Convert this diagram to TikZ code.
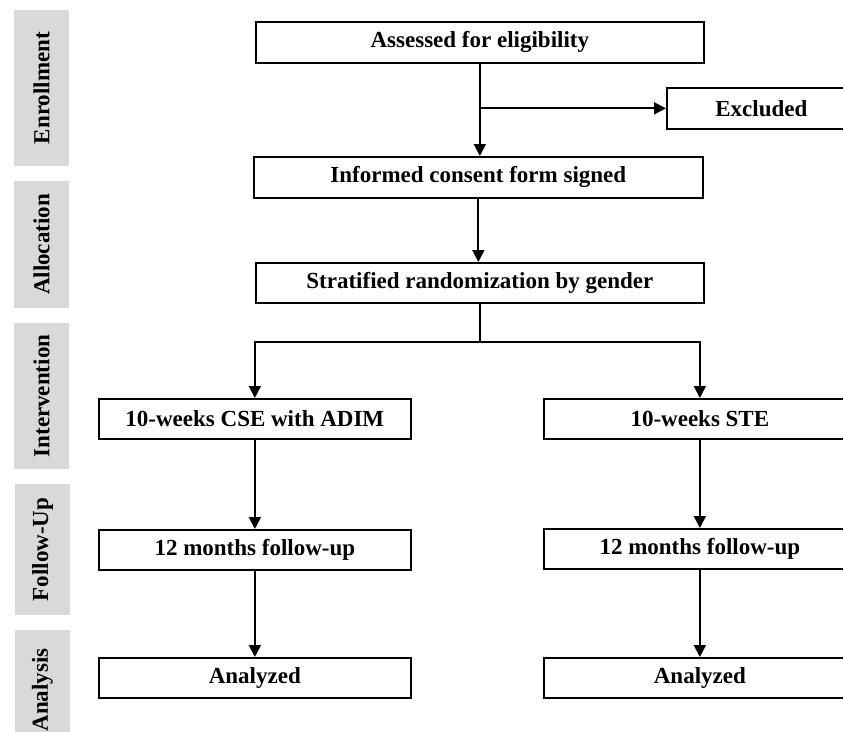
\documentclass[tikz,border=0pt]{standalone}
\usepackage{fontspec}
\setmainfont{Liberation Serif}
\usetikzlibrary{arrows.meta,calc}
\definecolor{bandgray}{HTML}{D9D9D9}
\begin{document}
\begin{tikzpicture}[x=1pt,y=-1pt,
  box/.style={draw, line width=1.7pt, inner sep=0pt, anchor=north west,
    minimum height=40pt, font=\fontsize{23}{26}\selectfont\bfseries},
  band/.style={fill=bandgray, draw=none, inner sep=0pt, rotate=90,
    minimum height=55pt, font=\fontsize{23}{26}\selectfont\bfseries},
  arr/.style={line width=1.8pt, -{Triangle[length=12pt,width=12pt]}},
  ln/.style={line width=1.8pt}]
\clip (0,0) rectangle (843,731);
% phase bands
\node[band, minimum width=156pt] (bEnr) at (41.5,88) {Enrollment};
\node[band, minimum width=127pt] (bAll) at (41.5,244.5) {Allocation};
\node[band, minimum width=146pt] (bInt) at (41.5,396) {Intervention};
\node[band, minimum width=131pt] (bFol) at (42.5,549.5) {Follow-Up};
\node[band, minimum width=120pt] (bAna) at (42.5,690) {Analysis};
% boxes
\node[box, minimum width=448pt, minimum height=41pt] (assess) at (255,21) {Assessed for eligibility};
\node[box, minimum width=189pt, minimum height=41pt] (excl) at (666,87) {Excluded};
\node[box, minimum width=449pt, minimum height=41pt] (consent) at (253,156) {Informed consent form signed};
\node[box, minimum width=448pt] (strat) at (255,262) {Stratified randomization by gender};
\node[box, minimum width=312pt] (cse) at (98,398) {10-weeks CSE with ADIM};
\node[box, minimum width=312pt] (ste) at (543,398) {10-weeks STE};
\node[box, minimum width=312pt] (fu1) at (98,529) {12 months follow-up};
\node[box, minimum width=312pt] (fu2) at (543,528) {12 months follow-up};
\node[box, minimum width=312pt] (an1) at (98,657) {Analyzed};
\node[box, minimum width=312pt] (an2) at (543,657) {Analyzed};
% connectors
\coordinate (j1) at (assess.south |- excl.west);
\coordinate (split) at ($(strat.south)+(0,38)$);
\draw[arr] (assess.south) -- (assess.south |- consent.north);
\draw[arr] (j1) -- (excl.west);
\draw[arr] (consent.south) -- (consent.south |- strat.north);
\draw[ln] (strat.south) -- (split);
\draw[arr] (split) -| (cse.north);
\draw[arr] (split) -| (ste.north);
\draw[arr] (cse.south) -- (fu1.north);
\draw[arr] (ste.south) -- (fu2.north);
\draw[arr] (fu1.south) -- (an1.north);
\draw[arr] (fu2.south) -- (an2.north);
\end{tikzpicture}
\end{document}
